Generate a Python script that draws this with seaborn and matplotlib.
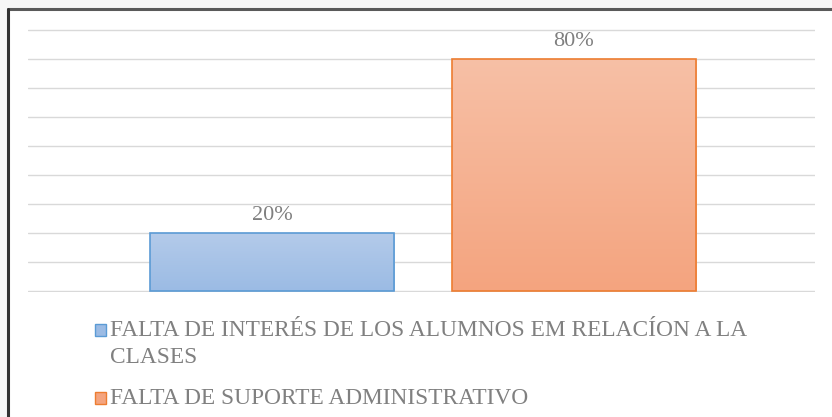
import matplotlib.pyplot as plt
import seaborn as sns
import numpy as np
import pandas as pd
from matplotlib.patches import Rectangle
from matplotlib.lines import Line2D
from matplotlib.colors import to_rgb
import matplotlib.ticker as ticker

categorias = ['FALTA DE INTERÉS DE LOS ALUMNOS EM RELACÍON A LA\nCLASES',
              'FALTA DE SUPORTE ADMINISTRATIVO']
porcentajes = [0.20, 0.80]
etiquetas = ['20%', '80%']
colores_arriba = ['#b4cbea', '#f7c0a6']
colores_abajo = ['#9bbbe4', '#f4a47f']
colores_borde = ['#5b9bd5', '#ed7d31']

sns.set_style('white')
plt.rcParams['font.family'] = ['Liberation Serif', 'DejaVu Serif']

df = pd.DataFrame({'Categoria': categorias, 'Porcentaje': porcentajes})

W, H = 832, 417
fig = plt.figure(figsize=(W / 100, H / 100), dpi=100, facecolor='#f7f7f7')


def fx(px):
    return px / W


def fy(py):
    return 1 - py / H


# panel blanco con borde arriba e izquierda
fig.patches.append(Rectangle((fx(8), 0), 1, fy(9), transform=fig.transFigure,
                             facecolor='white', edgecolor='none', zorder=-5))
fig.lines.append(Line2D([fx(8), 1], [fy(9), fy(9)], transform=fig.transFigure,
                        color='#5a5a5a', lw=2.2))
fig.lines.append(Line2D([fx(8), fx(8)], [0, fy(9)], transform=fig.transFigure,
                        color='#333333', lw=2.2))

ax = fig.add_axes([fx(28), fy(292), (815 - 28) / W, (292 - 29) / H])
ax.set_facecolor('none')

sns.barplot(data=df, x='Categoria', y='Porcentaje', hue='Categoria',
            palette=colores_abajo, width=0.81, legend=False, ax=ax, zorder=2)

ax.set_xlim(-0.81, 1.8)
ax.set_ylim(-0.003, 0.903)
ax.yaxis.set_major_locator(ticker.MultipleLocator(0.1))
ax.grid(axis='y', color='#d9d9d9', lw=1, zorder=0)
ax.set_axisbelow(True)
for s in ax.spines.values():
    s.set_visible(False)
ax.set_xticks([])
ax.tick_params(left=False, labelleft=False)
ax.set_xlabel('')
ax.set_ylabel('')

# degradado dentro de cada barra
for i, bar in enumerate(ax.patches):
    x0, y0 = bar.get_x(), bar.get_y()
    w, h = bar.get_width(), bar.get_height()
    c1 = np.array(to_rgb(colores_arriba[i]))
    c2 = np.array(to_rgb(colores_abajo[i]))
    t = np.linspace(0, 1, 100)[:, None]
    grad = (c1 * (1 - t) + c2 * t)[:, None, :]
    im = ax.imshow(grad, extent=[x0, x0 + w, y0, y0 + h], aspect='auto',
                   origin='upper', zorder=2.5)
    im.set_clip_path(bar)
    bar.set_edgecolor(colores_borde[i])
    bar.set_linewidth(1.2)
    bar.set_zorder(3)
    bar.set_facecolor('none')
    ax.annotate(etiquetas[i], (x0 + w / 2, y0 + h), xytext=(0, 9.5),
                textcoords='offset points', ha='center', va='baseline',
                fontsize=16, color='#7f7f7f')

# leyenda dibujada a mano (cuadro alineado con la primera linea)
lineas_base = [[336, 363], [404]]
for i, cat in enumerate(categorias):
    base = lineas_base[i]
    fig.patches.append(Rectangle((fx(94.5), fy(base[0] - 0.5)), 11.5 / W, 11.5 / H,
                                 transform=fig.transFigure, facecolor=colores_abajo[i],
                                 edgecolor=colores_borde[i], lw=1))
    for j, parte in enumerate(cat.split('\n')):
        fig.text(fx(110), fy(base[j]), parte, ha='left', va='baseline',
                 fontsize=16.8, color='#808080')

fig.savefig('out.png', dpi=100, facecolor=fig.get_facecolor())
